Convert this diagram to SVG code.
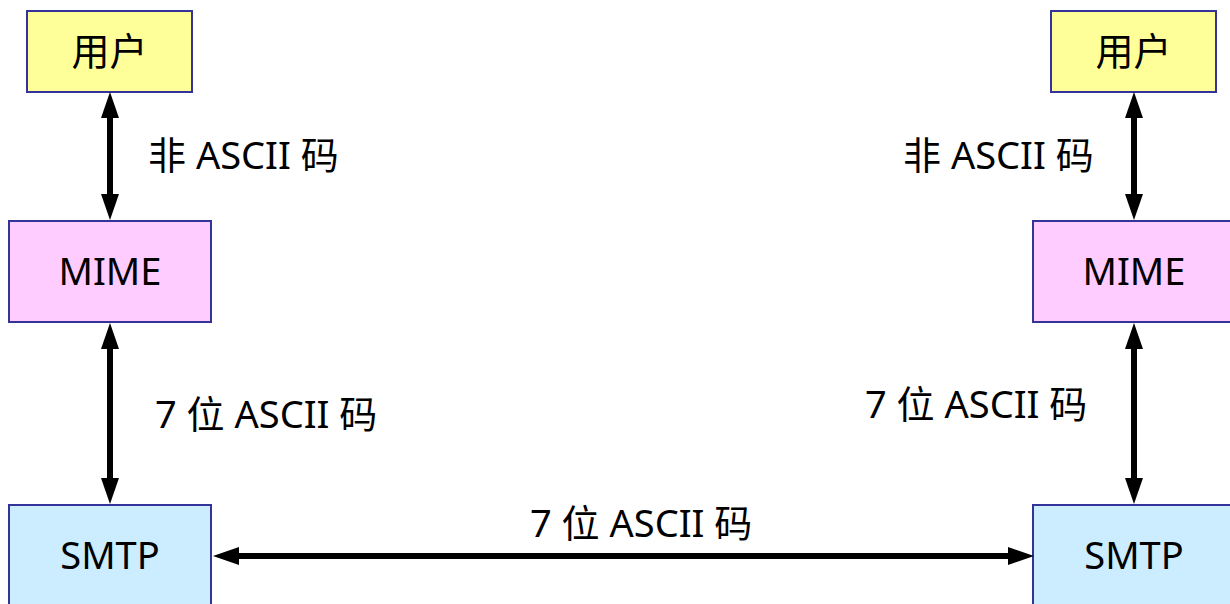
<svg xmlns="http://www.w3.org/2000/svg" width="1230" height="604" viewBox="0 0 1230 604">
<style>
.box{stroke:#333399;stroke-width:2}
.user{fill:#FFFF99}
.mime{fill:#FFCCFF}
.smtp{fill:#CCECFF}
text{font-family:"Noto Sans","Noto Sans CJK SC",sans-serif;font-size:38px;fill:#000}
.c{text-anchor:middle}
.conn line{stroke:#000;stroke-width:6;marker-start:url(#ah);marker-end:url(#ah)}
</style>
<defs>
<marker id="ah" markerUnits="userSpaceOnUse" markerWidth="26" markerHeight="18" refX="6" refY="9" orient="auto-start-reverse" viewBox="0 0 26 18">
<path d="M0,0 L26,9 L0,18 z" fill="#000"/>
</marker>
</defs>
<rect width="1230" height="604" fill="#fff"/>
<g id="user-left"><rect class="box user" x="27" y="11" width="165" height="81"/><text class="c" x="109.5" y="65">用户</text></g>
<g id="mime-left"><rect class="box mime" x="9" y="221" width="202" height="101"/><text class="c" x="110" y="285">MIME</text></g>
<g id="smtp-left"><rect class="box smtp" x="9" y="505" width="202" height="110"/><text class="c" x="110" y="569">SMTP</text></g>
<g id="user-right"><rect class="box user" x="1051" y="11" width="165" height="81"/><text class="c" x="1133.5" y="65">用户</text></g>
<g id="mime-right"><rect class="box mime" x="1033" y="221" width="210" height="101"/><text class="c" x="1134" y="285">MIME</text></g>
<g id="smtp-right"><rect class="box smtp" x="1033" y="505" width="210" height="110"/><text class="c" x="1134" y="569">SMTP</text></g>
<g class="conn" id="connectors">
<line x1="110" y1="112" x2="110" y2="200"/>
<line x1="110" y1="343" x2="110" y2="484"/>
<line x1="1134" y1="112" x2="1134" y2="200"/>
<line x1="1134" y1="343" x2="1134" y2="484"/>
<line x1="233" y1="556" x2="1014" y2="556"/>
</g>
<g id="labels">
<text x="148" y="169">非 ASCII 码</text>
<text x="903" y="169">非 ASCII 码</text>
<text x="155" y="428">7 位 ASCII 码</text>
<text x="865" y="418">7 位 ASCII 码</text>
<text x="530" y="537">7 位 ASCII 码</text>
</g>
</svg>
